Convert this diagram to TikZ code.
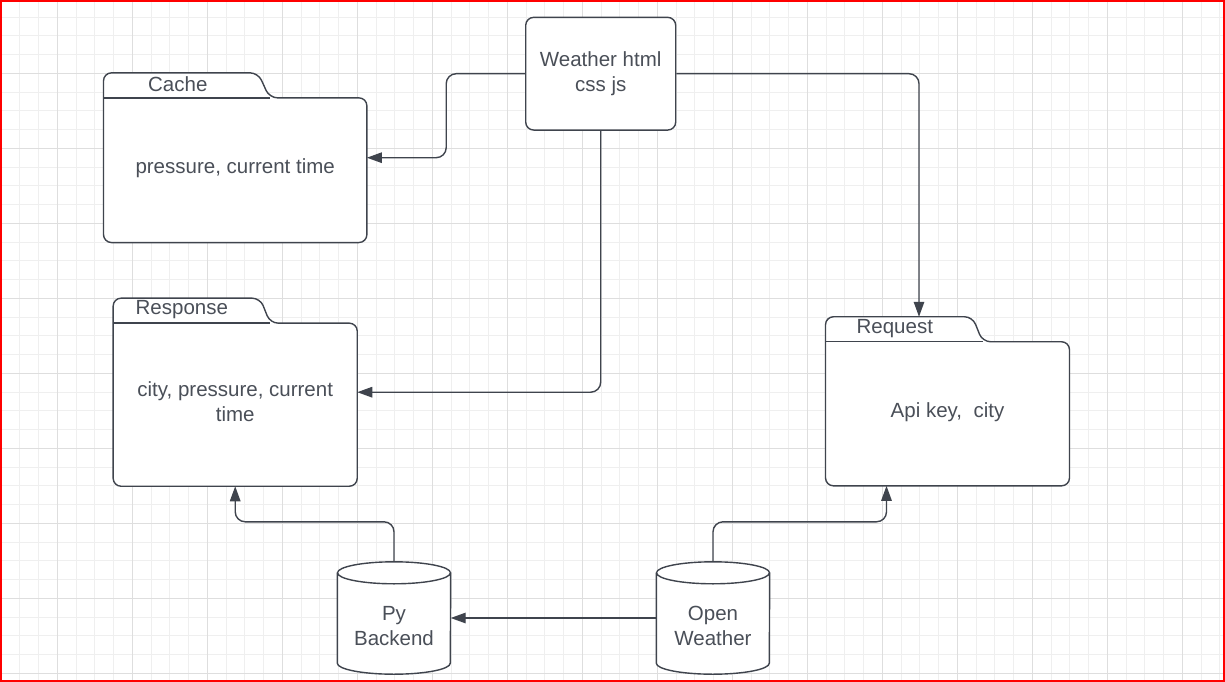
\documentclass[tikz,border=0pt]{standalone}
\usepackage{fontspec}
\setmainfont{Liberation Sans}
\usepackage{tikz}
\usetikzlibrary{positioning, arrows.meta}
\definecolor{inkline}{HTML}{3F444D}
\definecolor{inktext}{HTML}{4A4F58}
\definecolor{gridminor}{HTML}{EFEFEF}
\definecolor{gridmajor}{HTML}{DEDEDE}
\tikzset{
x=1pt, y=1pt, % one unit is one pixel of the sketch
>={Triangle[length=15pt,width=10.5pt]}, % filled arrow heads
every node/.style={text=inktext, font=\fontsize{20.5}{25.5}\selectfont, align=center},
box/.style={draw=inkline, line width=1.4pt, rounded corners=8pt, fill=white}, % the page box
folder/.style={inner sep=0pt}, % body of a folder, outline drawn by \drawfolder
drum/.style={inner sep=0pt, minimum width=113, minimum height=112}, % database cylinder
outline/.style={draw=inkline, line width=1.4pt, fill=white},
conn/.style={->, draw=inkline, line width=1.4pt, rounded corners=10pt}, % connectors
}
% folder outline round a body node: #2 = tab width, #3 = where the tab slope ends
\newcommand\drawfolder[3]{%
  \draw[outline, rounded corners=8pt] (#1.south west) -- ([yshift=25]#1.north west)
    -- ([xshift=#2,yshift=25]#1.north west) -- ([xshift=#3]#1.north west)
    -- (#1.north east) -- (#1.south east) -- cycle;
  \draw[draw=inkline, line width=1.4pt] (#1.north west) -- ([xshift=#3]#1.north west);
}
% cylinder round a drum node
\newcommand\drawdrum[1]{%
  \draw[outline] ([yshift=-11]#1.north west) -- ([yshift=11]#1.south west)
    arc[start angle=180, end angle=360, x radius=56.5, y radius=11]
    -- ([yshift=-11]#1.north east);
  \draw[outline] ([yshift=-11]#1.north) ellipse[x radius=56.5, y radius=11];
}

\begin{document}
\begin{tikzpicture}
        \useasboundingbox (0,0) rectangle (1225,-682);
        \fill[white] (0,0) rectangle (1225,-682);
        \begin{scope}
        \clip (0,0) rectangle (1225,-682);
        \draw[gridminor, line width=1pt, shift={(1.05,-17.05)}, step=18.75pt] (-20,20) grid (1240,-700);
        \draw[gridmajor, line width=1pt, shift={(57.3,-73.3)}, step=75pt] (-80,80) grid (1200,-700);
        \end{scope}
        \draw[red, line width=2pt] (1,-1) rectangle (1224,-681);

        % boxes
        \node[box, minimum width=150, minimum height=112.7] (weather) at (600.7,-73.7) {Weather html\\css js};
        \node[folder, minimum width=263, minimum height=144.3] (cache) at (235.2,-170.2) {};
        \node[folder, minimum width=243.7, minimum height=162.7] (response) at (235.2,-404.7) {};
        \node[folder, minimum width=243.6, minimum height=143.7] (request) at (947.5,-413.8) {};
        \node[drum] (py) at (394,-618) {};
        \node[drum] (ow) at (713,-618) {};

        % outlines behind the texts
        \drawfolder{cache}{154.6}{166}
        \drawfolder{response}{147}{157}
        \drawfolder{request}{147}{157}
        \drawdrum{py}
        \drawdrum{ow}

        % texts
        \node (cachetext) at ([yshift=2]cache.center) {pressure, current time};
        \node (responsetext) at ([yshift=3]response.center) {city, pressure, current\\time};
        \node (requesttext) at ([yshift=2]request.center) {Api key,\ \ city};
        \node (cachetab) at ([xshift=74.3,yshift=13.5]cache.north west) {Cache};
        \node (responsetab) at ([xshift=68.7,yshift=13.5]response.north west) {Response};
        \node (requesttab) at ([xshift=69.3,yshift=13.5]request.north west) {Request};
        \node (pytext) at ([yshift=-8]py.center) {Py\\Backend};
        \node (owtext) at ([yshift=-8]ow.center) {Open\\Weather};

        % connectors
        \draw[conn] (weather.west) -| ([xshift=79.3,yshift=12.5]cache.east) -- ([yshift=12.5]cache.east);
        \draw[conn] (weather.east) -| ([xshift=-28.5,yshift=25]request.north);
        \draw[conn] (weather.south) |- ([yshift=12.5]response.east);
        \draw[conn] (py.north) -- ++(0,40) -| (response.south);
        \draw[conn] (ow.north) -- ++(0,40) -| ([xshift=-61]request.south);
        \draw[conn] (ow.west) -- (py.east);
      \end{tikzpicture}
\end{document}
